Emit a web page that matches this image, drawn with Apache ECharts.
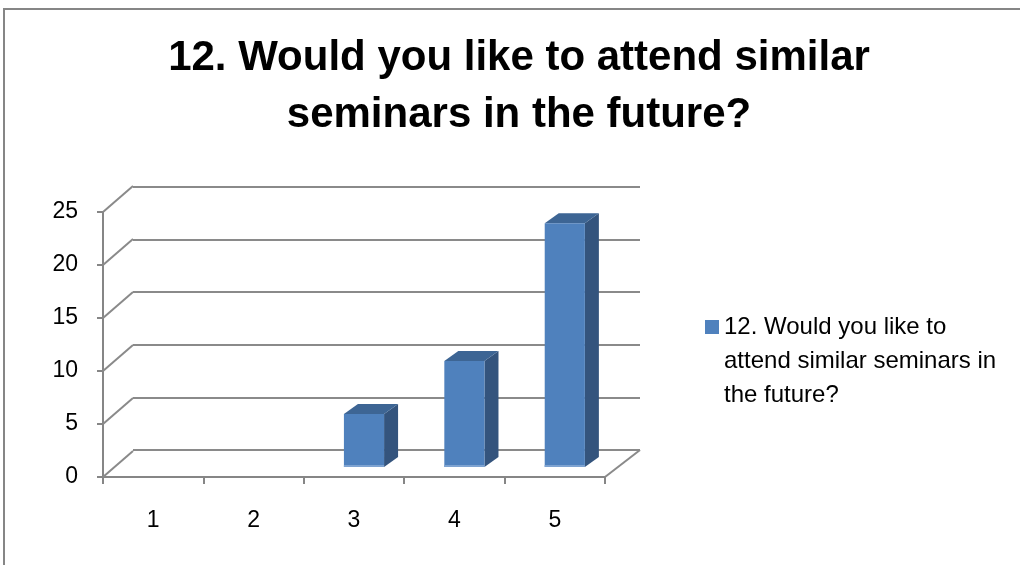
<!DOCTYPE html>
<html>
<head>
<meta charset="utf-8">
<script src="https://cdn.jsdelivr.net/npm/echarts@6/dist/echarts.min.js"></script>
<style>
  html, body { margin: 0; padding: 0; background: #ffffff; }
  #chart { width: 1020px; height: 565px; }
</style>
</head>
<body>
<div id="chart"></div>
<script>
// ---- data ----
const categories = ['1', '2', '3', '4', '5'];
const values = [0, 0, 5, 10, 23];
const yTickValues = [0, 5, 10, 15, 20, 25];
const seriesName = '12. Would you like to attend similar seminars in the future?';
const titleText = '12. Would you like to attend similar\nseminars in the future?';
const legendLines = ['12. Would you like to', 'attend similar seminars in', 'the future?'];

// ---- style constants ----
const AXIS_GRAY = '#868686';
const FONT = '"Liberation Sans", Arial, sans-serif';
const BAR_SHIFT = [10, -10];     // bar placed at mid depth
const BAR_DEPTH = [14, -10];     // bar's own 3D depth
const WALL_DEPTH_L = [30, -26];  // side-wall diagonals
const WALL_DEPTH_R = [35, -27];

const chart = echarts.init(document.getElementById('chart'), null, { renderer: 'canvas' });

const option = {
  animation: false,
  backgroundColor: '#ffffff',
  title: {
    text: titleText,
    left: 519,
    textAlign: 'center',
    top: 30,
    padding: 0,
    textStyle: {
      fontFamily: FONT,
      fontWeight: 'bold',
      fontSize: 42,
      lineHeight: 57,
      color: '#000000'
    }
  },
  grid: [
    { left: 103, top: 212, width: 502, height: 265, containLabel: false },  // front plane
    { left: 133, top: 187, width: 507, height: 263, containLabel: false }   // back wall
  ],
  xAxis: [
    {
      type: 'category', gridIndex: 0, data: categories,
      axisLine: { show: true, lineStyle: { color: AXIS_GRAY, width: 2 } },
      axisTick: { show: true, length: 7, alignWithLabel: false, lineStyle: { color: AXIS_GRAY, width: 2 } },
      axisLabel: { margin: 32, fontFamily: FONT, fontSize: 23, color: '#000000' },
      splitLine: { show: false }
    },
    {
      type: 'category', gridIndex: 1, data: categories, show: false
    }
  ],
  yAxis: [
    {
      type: 'value', gridIndex: 0, min: 0, max: 25, interval: 5,
      axisLine: { show: true, lineStyle: { color: AXIS_GRAY, width: 2 } },
      axisTick: { show: true, length: 6, lineStyle: { color: AXIS_GRAY, width: 2 } },
      axisLabel: { margin: 25, fontFamily: FONT, fontSize: 23, color: '#000000' },
      splitLine: { show: false }
    },
    {
      type: 'value', gridIndex: 1, min: 0, max: 25, interval: 5,
      axisLine: { show: false }, axisTick: { show: false }, axisLabel: { show: false },
      splitLine: { show: true, lineStyle: { color: '#8a8a8a', width: 2 } }
    }
  ],
  graphic: [
    {
      type: 'polyline', silent: true,
      shape: { points: [[4, 565], [4, 9], [1020, 9]] },
      style: { stroke: AXIS_GRAY, lineWidth: 2, fill: null }
    },
    {
      type: 'rect', left: 705, top: 320,
      shape: { x: 0, y: 0, width: 14, height: 14 },
      style: { fill: '#4F81BD' }
    },
    {
      type: 'text', left: 724, top: 310,
      style: {
        text: legendLines.join('\n'),
        font: '24px ' + FONT,
        lineHeight: 34,
        fill: '#000000'
      }
    }
  ],
  series: [
    {
      type: 'custom',
      name: 'walls',
      xAxisIndex: 0, yAxisIndex: 0,
      data: [[0, 0]],
      silent: true,
      z: 1,
      renderItem: function (params, api) {
        const cs = params.coordSys;
        const children = [];
        yTickValues.forEach(function (v) {
          const y = api.coord([0, v])[1];
          children.push({
            type: 'line',
            shape: { x1: cs.x, y1: y, x2: cs.x + WALL_DEPTH_L[0], y2: y + WALL_DEPTH_L[1] },
            style: { stroke: '#8a8a8a', lineWidth: 2 }
          });
        });
        const y0 = api.coord([0, 0])[1];
        children.push({
          type: 'line',
          shape: { x1: cs.x + cs.width, y1: y0, x2: cs.x + cs.width + WALL_DEPTH_R[0], y2: y0 + WALL_DEPTH_R[1] },
          style: { stroke: '#8a8a8a', lineWidth: 2 }
        });
        return { type: 'group', children: children };
      }
    },
    {
      type: 'custom',
      name: seriesName,
      xAxisIndex: 0, yAxisIndex: 0,
      encode: { x: 0, y: 1 },
      data: values.map(function (v, i) { return [i, v]; }),
      z: 5,
      renderItem: function (params, api) {
        const idx = api.value(0);
        const v = api.value(1);
        if (!v) return null;
        const base = api.coord([idx, 0]);
        const top = api.coord([idx, v]);
        const bw = api.size([1, 0])[0] * 0.4;
        const x0 = base[0] + BAR_SHIFT[0] - bw / 2;
        const x1 = x0 + bw;
        const yb = base[1] + BAR_SHIFT[1];
        const yt = top[1] + BAR_SHIFT[1];
        const dx = BAR_DEPTH[0], dy = BAR_DEPTH[1];
        return {
          type: 'group',
          children: [
            { type: 'polygon', shape: { points: [[x1, yt], [x1 + dx, yt + dy], [x1 + dx, yb + dy], [x1, yb]] },
              style: { fill: '#34547D' } },
            { type: 'polygon', shape: { points: [[x0, yt], [x0 + dx, yt + dy], [x1 + dx, yt + dy], [x1, yt]] },
              style: { fill: '#3D6594' } },
            { type: 'rect', shape: { x: x0, y: yt, width: bw, height: yb - yt },
              style: { fill: '#4F81BD' } },
            { type: 'line', shape: { x1: x0, y1: yb - 1, x2: x1, y2: yb - 1 },
              style: { stroke: '#7EA3D1', lineWidth: 2 } }
          ]
        };
      }
    }
  ]
};

chart.setOption(option);
</script>
</body>
</html>
